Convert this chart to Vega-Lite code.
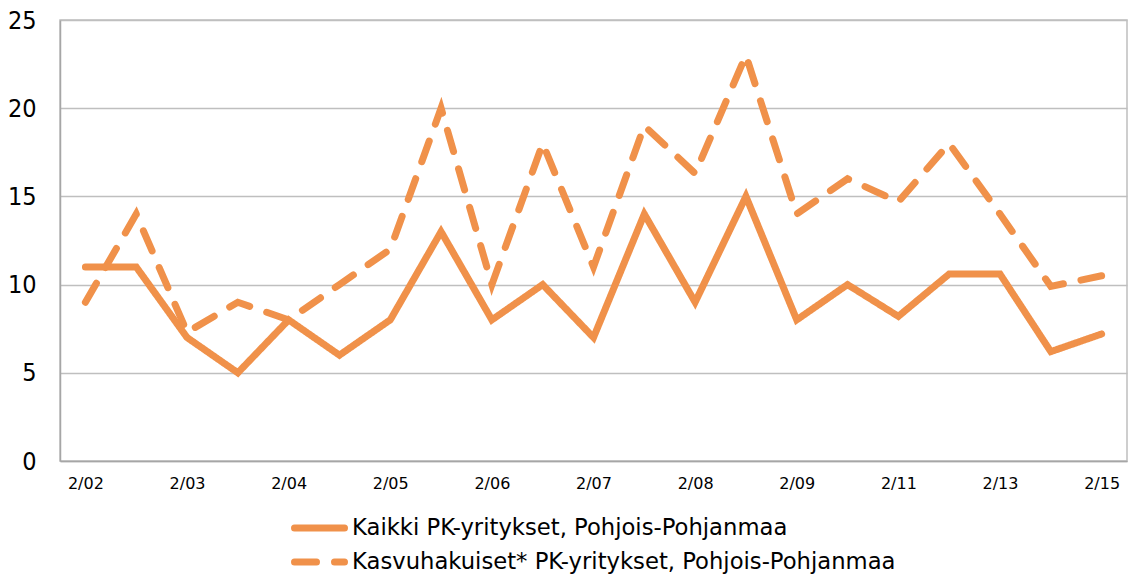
{
  "$schema": "https://vega.github.io/schema/vega-lite/v6.json",
  "autosize": {"type": "none"},
  "width": 1067,
  "height": 441,
  "padding": {"left": 60, "top": 20, "right": 8, "bottom": 117},
  "background": "white",
  "data": {
    "values": [
      {"period": "2/02", "series": "Kaikki PK-yritykset, Pohjois-Pohjanmaa", "value": 11},
      {"period": "8/02", "series": "Kaikki PK-yritykset, Pohjois-Pohjanmaa", "value": 11},
      {"period": "2/03", "series": "Kaikki PK-yritykset, Pohjois-Pohjanmaa", "value": 7},
      {"period": "8/03", "series": "Kaikki PK-yritykset, Pohjois-Pohjanmaa", "value": 5},
      {"period": "2/04", "series": "Kaikki PK-yritykset, Pohjois-Pohjanmaa", "value": 8},
      {"period": "8/04", "series": "Kaikki PK-yritykset, Pohjois-Pohjanmaa", "value": 6},
      {"period": "2/05", "series": "Kaikki PK-yritykset, Pohjois-Pohjanmaa", "value": 8},
      {"period": "8/05", "series": "Kaikki PK-yritykset, Pohjois-Pohjanmaa", "value": 13},
      {"period": "2/06", "series": "Kaikki PK-yritykset, Pohjois-Pohjanmaa", "value": 8},
      {"period": "8/06", "series": "Kaikki PK-yritykset, Pohjois-Pohjanmaa", "value": 10},
      {"period": "2/07", "series": "Kaikki PK-yritykset, Pohjois-Pohjanmaa", "value": 7},
      {"period": "8/07", "series": "Kaikki PK-yritykset, Pohjois-Pohjanmaa", "value": 14},
      {"period": "2/08", "series": "Kaikki PK-yritykset, Pohjois-Pohjanmaa", "value": 9},
      {"period": "8/08", "series": "Kaikki PK-yritykset, Pohjois-Pohjanmaa", "value": 15},
      {"period": "2/09", "series": "Kaikki PK-yritykset, Pohjois-Pohjanmaa", "value": 8},
      {"period": "2/10", "series": "Kaikki PK-yritykset, Pohjois-Pohjanmaa", "value": 10},
      {"period": "2/11", "series": "Kaikki PK-yritykset, Pohjois-Pohjanmaa", "value": 8.2},
      {"period": "2/12", "series": "Kaikki PK-yritykset, Pohjois-Pohjanmaa", "value": 10.6},
      {"period": "2/13", "series": "Kaikki PK-yritykset, Pohjois-Pohjanmaa", "value": 10.6},
      {"period": "2/14", "series": "Kaikki PK-yritykset, Pohjois-Pohjanmaa", "value": 6.2},
      {"period": "2/15", "series": "Kaikki PK-yritykset, Pohjois-Pohjanmaa", "value": 7.2},
      {"period": "2/02", "series": "Kasvuhakuiset* PK-yritykset, Pohjois-Pohjanmaa", "value": 9},
      {"period": "8/02", "series": "Kasvuhakuiset* PK-yritykset, Pohjois-Pohjanmaa", "value": 14},
      {"period": "2/03", "series": "Kasvuhakuiset* PK-yritykset, Pohjois-Pohjanmaa", "value": 7.3},
      {"period": "8/03", "series": "Kasvuhakuiset* PK-yritykset, Pohjois-Pohjanmaa", "value": 9},
      {"period": "2/04", "series": "Kasvuhakuiset* PK-yritykset, Pohjois-Pohjanmaa", "value": 8},
      {"period": "8/04", "series": "Kasvuhakuiset* PK-yritykset, Pohjois-Pohjanmaa", "value": 10},
      {"period": "2/05", "series": "Kasvuhakuiset* PK-yritykset, Pohjois-Pohjanmaa", "value": 12},
      {"period": "8/05", "series": "Kasvuhakuiset* PK-yritykset, Pohjois-Pohjanmaa", "value": 20},
      {"period": "2/06", "series": "Kasvuhakuiset* PK-yritykset, Pohjois-Pohjanmaa", "value": 10},
      {"period": "8/06", "series": "Kasvuhakuiset* PK-yritykset, Pohjois-Pohjanmaa", "value": 18},
      {"period": "2/07", "series": "Kasvuhakuiset* PK-yritykset, Pohjois-Pohjanmaa", "value": 11},
      {"period": "8/07", "series": "Kasvuhakuiset* PK-yritykset, Pohjois-Pohjanmaa", "value": 19},
      {"period": "2/08", "series": "Kasvuhakuiset* PK-yritykset, Pohjois-Pohjanmaa", "value": 16.3},
      {"period": "8/08", "series": "Kasvuhakuiset* PK-yritykset, Pohjois-Pohjanmaa", "value": 23},
      {"period": "2/09", "series": "Kasvuhakuiset* PK-yritykset, Pohjois-Pohjanmaa", "value": 14},
      {"period": "2/10", "series": "Kasvuhakuiset* PK-yritykset, Pohjois-Pohjanmaa", "value": 16},
      {"period": "2/11", "series": "Kasvuhakuiset* PK-yritykset, Pohjois-Pohjanmaa", "value": 14.7},
      {"period": "2/12", "series": "Kasvuhakuiset* PK-yritykset, Pohjois-Pohjanmaa", "value": 18},
      {"period": "2/13", "series": "Kasvuhakuiset* PK-yritykset, Pohjois-Pohjanmaa", "value": 14},
      {"period": "2/14", "series": "Kasvuhakuiset* PK-yritykset, Pohjois-Pohjanmaa", "value": 9.9},
      {"period": "2/15", "series": "Kasvuhakuiset* PK-yritykset, Pohjois-Pohjanmaa", "value": 10.5}
    ]
  },
  "mark": {"type": "line", "strokeWidth": 7, "strokeCap": "round", "strokeJoin": "miter"},
  "encoding": {
    "x": {
      "field": "period",
      "type": "ordinal",
      "sort": null,
      "scale": {"type": "point", "padding": 0.5},
      "axis": {
        "title": null,
        "values": ["2/02", "2/03", "2/04", "2/05", "2/06", "2/07", "2/08", "2/09", "2/11", "2/13", "2/15"],
        "labelAngle": 0,
        "ticks": false,
        "grid": false,
        "domain": true,
        "domainColor": "#a6a6a6",
        "domainWidth": 1.5,
        "labelFont": "DejaVu Sans",
        "labelFontSize": 16,
        "labelColor": "#000000",
        "labelPadding": 14
      }
    },
    "y": {
      "field": "value",
      "type": "quantitative",
      "scale": {"domain": [0, 25], "nice": false},
      "axis": {
        "title": null,
        "values": [0, 5, 10, 15, 20, 25],
        "ticks": false,
        "grid": true,
        "gridColor": "#bfbfbf",
        "gridWidth": 1.5,
        "domain": true,
        "domainColor": "#a6a6a6",
        "domainWidth": 1.5,
        "labelFont": "Liberation Sans Narrow, DejaVu Sans Condensed, sans-serif",
        "labelFontSize": 25,
        "labelColor": "#000000",
        "labelPadding": 24
      }
    },
    "color": {
      "field": "series",
      "type": "nominal",
      "scale": {"range": ["#f0914a", "#f0914a"]},
      "legend": {
        "title": null,
        "orient": "bottom",
        "direction": "vertical",
        "symbolType": "stroke",
        "symbolSize": 2500,
        "symbolStrokeWidth": 7,
        "labelFont": "DejaVu Sans",
        "labelFontSize": 22.7,
        "labelColor": "#000000",
        "labelOffset": 4,
        "labelLimit": 800,
        "clipHeight": 24,
        "rowPadding": 10,
        "offset": 25,
        "encode": {"symbols": {"update": {"strokeCap": {"value": "round"}}}}
      }
    },
    "strokeDash": {
      "field": "series",
      "type": "nominal",
      "scale": {"range": [[1, 0], [22, 18]]}
    }
  },
  "config": {
    "view": {"stroke": "#bfbfbf", "strokeWidth": 1.5},
    "legend": {"layout": {"bottom": {"anchor": "middle"}}}
  }
}
